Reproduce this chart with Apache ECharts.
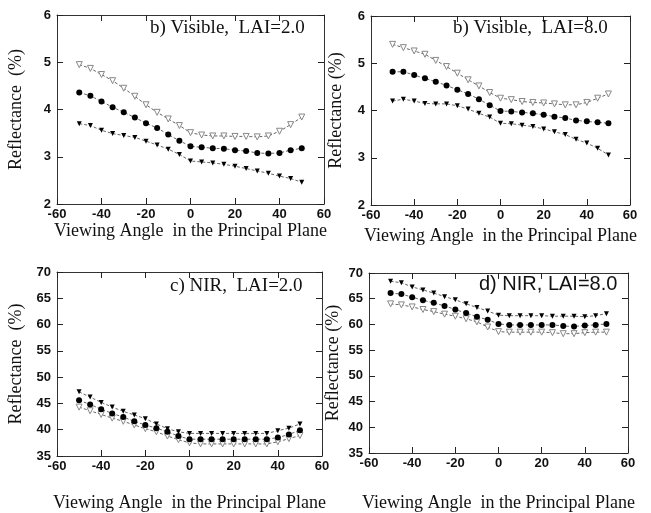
<!DOCTYPE html>
<html>
<head>
<meta charset="utf-8">
<script src="https://cdn.jsdelivr.net/npm/echarts@6/dist/echarts.min.js"></script>
<style>
  html, body { margin: 0; padding: 0; background: #fff; }
  #chart { width: 651px; height: 513px; }
</style>
</head>
<body>
<div id="chart"></div>
<script>
  // viewing angles (deg)
  var angles = [-50,-45,-40,-35,-30,-25,-20,-15,-10,-5,0,5,10,15,20,25,30,35,40,45,50];

  // b) Visible, LAI=2.0
  var vis2Open = [4.95,4.87,4.74,4.61,4.45,4.28,4.10,3.94,3.80,3.66,3.51,3.46,3.44,3.44,3.43,3.43,3.42,3.44,3.54,3.68,3.84];
  var vis2Dot  = [4.36,4.29,4.17,4.05,3.94,3.83,3.71,3.61,3.47,3.34,3.22,3.20,3.18,3.17,3.14,3.12,3.08,3.07,3.08,3.14,3.18];
  var vis2Tri  = [3.70,3.66,3.56,3.49,3.45,3.41,3.33,3.25,3.16,3.05,2.91,2.89,2.87,2.84,2.80,2.75,2.70,2.65,2.59,2.54,2.46];

  // b) Visible, LAI=8.0
  var vis8Open = [5.40,5.33,5.26,5.19,5.06,4.93,4.79,4.65,4.52,4.38,4.26,4.23,4.19,4.17,4.16,4.14,4.12,4.12,4.17,4.26,4.35];
  var vis8Dot  = [4.82,4.82,4.75,4.68,4.61,4.53,4.44,4.35,4.24,4.11,3.99,3.98,3.96,3.94,3.91,3.87,3.84,3.79,3.77,3.75,3.73];
  var vis8Tri  = [4.20,4.24,4.20,4.15,4.14,4.14,4.10,4.03,3.94,3.86,3.73,3.72,3.69,3.66,3.61,3.55,3.49,3.39,3.31,3.20,3.06];

  // c) NIR, LAI=2.0
  var nir2Tri  = [47.2,46.2,45.2,44.3,43.5,42.8,42.1,41.1,40.2,39.6,39.3,39.3,39.3,39.3,39.3,39.3,39.3,39.3,39.8,40.3,41.1];
  var nir2Dot  = [45.6,44.8,43.9,43.1,42.4,41.6,40.9,40.3,39.6,38.8,38.2,38.2,38.2,38.2,38.2,38.2,38.2,38.2,38.5,39.1,39.9];
  var nir2Open = [44.3,43.6,42.9,42.2,41.6,40.9,40.2,39.6,38.8,38.1,37.5,37.3,37.3,37.3,37.3,37.3,37.3,37.3,37.7,38.3,38.9];

  // d) NIR, LAI=8.0
  var nir8Tri  = [68.4,68.1,67.3,66.7,66.1,65.4,64.8,64.0,63.3,62.6,61.8,61.7,61.7,61.7,61.7,61.6,61.6,61.6,61.5,61.7,62.1];
  var nir8Dot  = [66.1,65.9,65.3,64.7,64.2,63.6,62.9,62.2,61.5,60.9,60.1,59.9,59.9,59.9,59.9,59.9,59.7,59.6,59.8,59.9,60.1];
  var nir8Open = [64.0,63.8,63.4,62.9,62.5,62.0,61.6,61.1,60.5,59.5,58.6,58.5,58.5,58.5,58.5,58.4,58.2,58.2,58.4,58.5,58.5];

  var xTicks = { min: -60, max: 60, interval: 20 };
  var visY = { min: 2, max: 6, interval: 1 };
  var nirY = { min: 35, max: 70, interval: 5 };

  var panels = [
    { grid: {left: 57, top: 15, width: 267, height: 189}, y: visY, yName: 'Reflectance  (%)', yGap: 32, xGap: 15,
      label: 'b) Visible,  LAI=2.0', lx: 145, ly: 14, serif: true, open: vis2Open, dot: vis2Dot, tri: vis2Tri },
    { grid: {left: 371, top: 16, width: 259, height: 189}, y: visY, yName: 'Reflectance (%)', yGap: 26, xGap: 22,
      label: 'b) Visible,  LAI=8.0', lx: 448, ly: 14, serif: true, open: vis8Open, dot: vis8Dot, tri: vis8Tri },
    { grid: {left: 57, top: 272, width: 265, height: 187}, y: nirY, yName: 'Reflectance  (%)', yGap: 32, xGap: 38,
      label: 'c) NIR,  LAI=2.0', lx: 165, ly: 272, serif: true, open: nir2Open, dot: nir2Dot, tri: nir2Tri },
    { grid: {left: 369, top: 273, width: 259, height: 186}, y: nirY, yName: 'Reflectance (%)', yGap: 27, xGap: 41,
      label: 'd) NIR, LAI=8.0', lx: 474, ly: 269, serif: false, open: nir8Open, dot: nir8Dot, tri: nir8Tri }
  ];

  var tickFont = { color: '#111', fontFamily: 'Liberation Sans', fontWeight: 'bold', fontSize: 13 };
  var titleFont = { color: '#111', fontFamily: 'Liberation Serif', fontSize: 18 };
  var frame = { show: true, onZero: false, lineStyle: { color: '#333', width: 1 } };
  var ticks = { show: true, inside: true, length: 6, lineStyle: { color: '#222', width: 1 } };

  var grids = [], xAxes = [], yAxes = [], series = [], titles = [];

  panels.forEach(function (p, i) {
    grids.push(p.grid);

    // bottom + top x axes
    xAxes.push({
      type: 'value', gridIndex: i, position: 'bottom', min: xTicks.min, max: xTicks.max, interval: xTicks.interval,
      name: 'Viewing Angle  in the Principal Plane', nameLocation: 'middle', nameGap: p.xGap,
      nameTextStyle: titleFont,
      axisLine: frame, axisTick: ticks,
      axisLabel: Object.assign({ margin: 4, showMinLabel: true, showMaxLabel: true }, tickFont),
      splitLine: { show: false }
    });
    xAxes.push({
      type: 'value', gridIndex: i, position: 'top', min: xTicks.min, max: xTicks.max, interval: xTicks.interval,
      axisLine: frame, axisTick: ticks,
      axisLabel: { show: false }, splitLine: { show: false }
    });

    // left + right y axes
    yAxes.push({
      type: 'value', gridIndex: i, position: 'left', min: p.y.min, max: p.y.max, interval: p.y.interval,
      name: p.yName, nameLocation: 'middle', nameGap: p.yGap, nameTextStyle: titleFont,
      axisLine: frame, axisTick: ticks,
      axisLabel: Object.assign({ margin: 6, showMinLabel: true, showMaxLabel: true }, tickFont),
      splitLine: { show: false }
    });
    yAxes.push({
      type: 'value', gridIndex: i, position: 'right', min: p.y.min, max: p.y.max, interval: p.y.interval,
      axisLine: frame, axisTick: ticks,
      axisLabel: { show: false }, splitLine: { show: false }
    });

    var zip = function (vals) { return angles.map(function (a, k) { return [a, vals[k]]; }); };
    var line = { color: '#666', width: 1, type: [3, 2] };

    series.push({
      type: 'line', xAxisIndex: i * 2, yAxisIndex: i * 2, data: zip(p.open),
      symbol: 'triangle', symbolRotate: 180, symbolSize: 6,
      itemStyle: { color: '#fff', borderColor: '#888', borderWidth: 1 }, lineStyle: line
    });
    series.push({
      type: 'line', xAxisIndex: i * 2, yAxisIndex: i * 2, data: zip(p.dot),
      symbol: 'circle', symbolSize: 6,
      itemStyle: { color: '#000', borderColor: '#000', borderWidth: 0 }, lineStyle: line
    });
    series.push({
      type: 'line', xAxisIndex: i * 2, yAxisIndex: i * 2, data: zip(p.tri),
      symbol: 'triangle', symbolRotate: 180, symbolSize: 5,
      itemStyle: { color: '#000', borderColor: '#000', borderWidth: 0 }, lineStyle: line
    });

    titles.push({
      text: p.label, left: p.lx, top: p.ly,
      textStyle: { color: '#111', fontWeight: 'normal', fontSize: p.serif ? 19 : 20,
        fontFamily: p.serif ? 'Liberation Serif' : 'Liberation Sans' }
    });
  });

  var myChart = echarts.init(document.getElementById('chart'));
  myChart.setOption({
    backgroundColor: '#fff',
    animation: false,
    title: titles,
    grid: grids,
    xAxis: xAxes,
    yAxis: yAxes,
    series: series
  });
</script>
</body>
</html>
